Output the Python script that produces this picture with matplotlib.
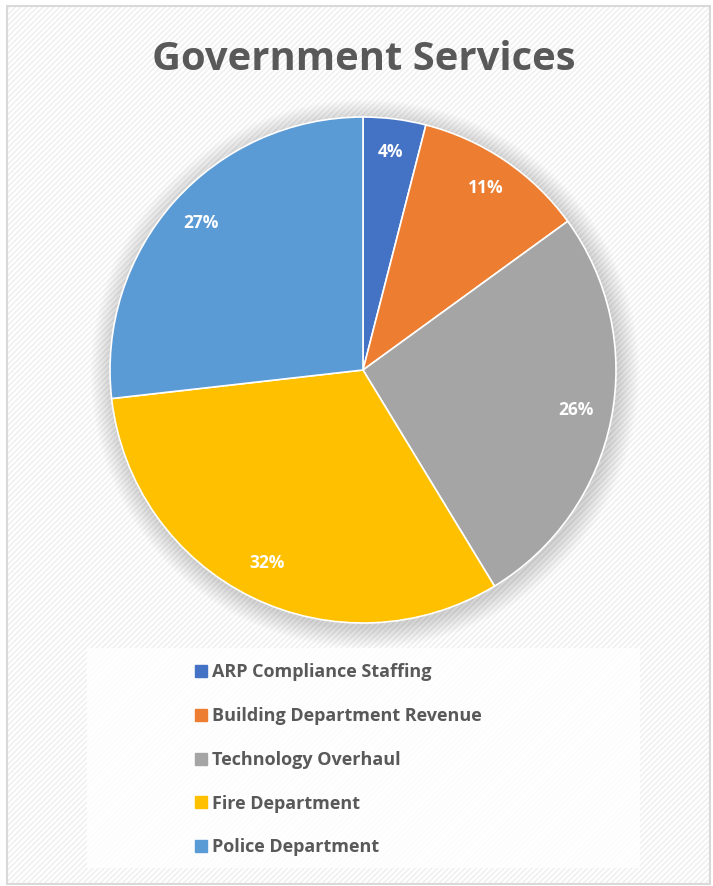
import numpy as np
import matplotlib.pyplot as plt
from matplotlib.patches import Rectangle, Circle
from matplotlib.lines import Line2D

# Data
categories = ["ARP Compliance Staffing", "Building Department Revenue",
              "Technology Overhaul", "Fire Department", "Police Department"]
shares = [4.0, 11.0, 26.3, 31.9, 26.8]
colors = ["#4472c4", "#ed7d31", "#a5a5a5", "#ffc000", "#5b9bd5"]
title = "Government Services"

plt.rcParams['font.family'] = ['Open Sans', 'DejaVu Sans']
plt.rcParams['hatch.linewidth'] = 1.2

W, H = 713, 886
fig = plt.figure(figsize=(W / 100, H / 100), dpi=100)
fig.patch.set_facecolor("white")

# hatched chart area + border
bg = Rectangle((7 / W, 1 - 884 / H), 703 / W, 878 / H, transform=fig.transFigure,
               facecolor="white", edgecolor="#f0f0f0", hatch="//////", lw=0, zorder=-3)
fig.patches.append(bg)
border = Rectangle((7 / W, 1 - 884 / H), 703 / W, 878 / H, transform=fig.transFigure,
                   facecolor="none", edgecolor="#d9d9d9", lw=1.5, zorder=-1)
fig.patches.append(border)

# legend box
lbox = Rectangle((87 / W, 1 - 868 / H), 553 / W, 220 / H, transform=fig.transFigure,
                 facecolor="white", edgecolor="none", alpha=0.85, zorder=-2)
fig.patches.append(lbox)

fig.text(364 / W, 1 - 59 / H, title, ha="center", va="center", fontsize=28.8,
         fontweight="bold", color="#595959")

r = 253
ax = fig.add_axes([(363 - r) / W, (H - 370 - r) / H, 2 * r / W, 2 * r / H])
ax.patch.set_visible(False)

# soft shadow
for i in range(14):
    ax.add_patch(Circle((0.008, -0.015), 1.0 + 0.006 * (14 - i), color="#000000",
                        alpha=0.013, lw=0, zorder=0, clip_on=False))

wedges, texts = ax.pie(shares, colors=colors, startangle=90, counterclock=False,
                       radius=1, wedgeprops=dict(edgecolor="white", linewidth=1.2))
for w in wedges:
    w.set_zorder(2)
ax.set_xlim(-1, 1)
ax.set_ylim(-1, 1)
ax.set_aspect("equal")
ax.axis("off")

start = 90.0
total = sum(shares)
for v in shares:
    ang = np.deg2rad(start - v / total * 180)
    start -= v / total * 360
    ax.text(0.86 * np.cos(ang), 0.86 * np.sin(ang) + 0.01, f"{round(v)}%", ha="center",
            va="center", color="white", fontsize=12.5, fontweight="bold", zorder=3)

handles = [Line2D([], [], marker="s", linestyle="none", markersize=9,
                  markerfacecolor=c, markeredgecolor=c) for c in colors]
leg = fig.legend(handles, categories, loc="upper left",
                 bbox_to_anchor=(187 / W, 1 - 656 / H), frameon=False,
                 fontsize=13, labelspacing=1.43, handletextpad=0.2,
                 handlelength=0.8, borderaxespad=0)
for t in leg.get_texts():
    t.set_color("#595959")
    t.set_fontweight("bold")

fig.savefig("out.png", dpi=100)
